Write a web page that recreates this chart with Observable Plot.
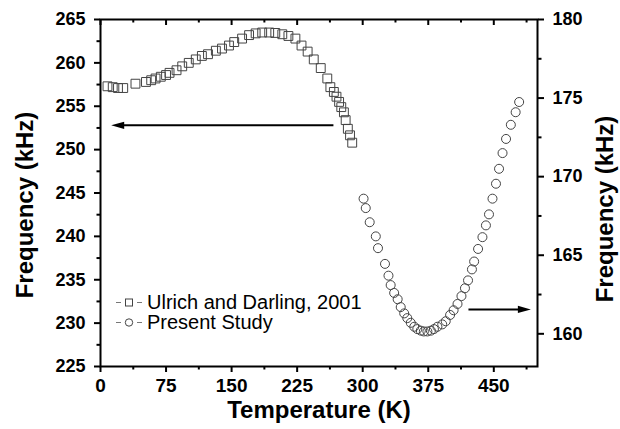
<!DOCTYPE html>
<html><head><meta charset="utf-8">
<script src="https://cdn.jsdelivr.net/npm/d3@7"></script>
<script src="https://cdn.jsdelivr.net/npm/@observablehq/plot@0.6"></script>
<style>body{margin:0;background:#fff} #c{width:620px;height:429px}</style>
</head><body><div id="c"></div>
<script>
// Ulrich and Darling, 2001 (left axis, kHz)
const sqT = [8, 14, 20, 26, 40, 52, 58, 63, 69, 75, 79, 87, 93.5, 101, 109, 116, 123, 132, 139, 147, 153, 162, 170, 177.5, 185, 193, 200, 208, 215, 223, 230, 237, 244, 252, 259.5, 263, 267, 270, 273, 275.5, 278.5, 280.5, 283, 285.5, 288];
const sqF = [257.3, 257.2, 257.1, 257.1, 257.6, 257.8, 258.0, 258.2, 258.4, 258.6, 258.85, 259.15, 259.6, 260.0, 260.4, 260.8, 261.0, 261.4, 261.65, 262.0, 262.4, 262.8, 263.2, 263.4, 263.5, 263.5, 263.45, 263.3, 263.1, 262.8, 262.0, 261.3, 260.4, 259.4, 258.2, 257.2, 256.65, 256.1, 255.5, 254.9, 254.3, 253.4, 252.4, 251.65, 250.8];
// Present Study (right axis, kHz)
const ciT = [301, 303.5, 308, 315, 317.5, 325.5, 329.5, 332, 336, 340, 343.5, 347.5, 351, 355, 359, 362.5, 366.5, 370, 374, 378, 381.5, 385.5, 391, 395, 400, 404, 408.5, 413, 417, 420.5, 425, 427.5, 432, 437, 441, 444.5, 448.5, 452.5, 456, 460, 464, 469.5, 475, 479];
const ciF = [168.6, 168.0, 167.1, 166.2, 165.45, 164.45, 163.7, 163.1, 162.6, 162.2, 161.7, 161.3, 161.0, 160.7, 160.45, 160.3, 160.2, 160.15, 160.15, 160.2, 160.3, 160.45, 160.6, 160.8, 161.2, 161.5, 161.9, 162.4, 162.9, 163.4, 164.1, 164.6, 165.4, 166.15, 166.9, 167.6, 168.6, 169.55, 170.5, 171.5, 172.4, 173.3, 174.1, 174.75];

const xMajor = [0, 75, 150, 225, 300, 375, 450];
const xMinor = [37.5, 112.5, 187.5, 262.5, 337.5, 412.5, 487.5];
const yLeftMajor = [225, 230, 235, 240, 245, 250, 255, 260, 265];
const yLeftMinor = [227.5, 232.5, 237.5, 242.5, 247.5, 252.5, 257.5, 262.5];
const yRightMajor = [160, 165, 170, 175, 180];
const yRightMinor = [162.5, 167.5, 172.5, 177.5];

// arrows: [tail T, tip T, value]
const arrowLeft = {t0: 266.5, t1: 12.2, f: 252.8};     // left-axis
const arrowRight = {t0: 421, t1: 492.4, f: 161.55};    // right-axis

const legendLabels = ["Ulrich and Darling, 2001", "Present Study"];

const L0 = 225, L1 = 265, R0 = 157.92, R1 = 180;
const toL = v => L0 + (v - R0) * (L1 - L0) / (R1 - R0);
const fromL = y => R0 + (y - L0) * (R1 - R0) / (L1 - L0);

const squares = sqT.map((t, i) => ({t, f: sqF[i]}));
const circles = ciT.map((t, i) => ({t, f: toL(ciF[i])}));

const font = "'Liberation Sans', Arial, sans-serif";
const head = {draw(ctx) { ctx.moveTo(0, 0); ctx.lineTo(-13, -3.6); ctx.lineTo(-13, 3.6); ctx.closePath(); }};
const markerStroke = "#444";

const chart = Plot.plot({
  width: 620, height: 429,
  marginLeft: 100, marginRight: 83, marginTop: 19, marginBottom: 63,
  style: {fontFamily: font, background: "white", overflow: "visible"},
  x: {domain: [0, 500]},
  y: {domain: [L0, L1]},
  marks: [
    Plot.axisX(xMajor, {anchor: "bottom", tickSize: 6, tickPadding: 6, fontSize: 19, fontWeight: "bold", strokeWidth: 2, label: null, tickFormat: d => d, fill: "black"}),
    Plot.axisX(xMinor, {anchor: "bottom", tickSize: 3.5, strokeWidth: 2, label: null, tickFormat: () => ""}),
    Plot.tickX(xMajor, {x: d => d, insetBottom: 341, strokeWidth: 2}),
    Plot.tickX(xMinor, {x: d => d, insetBottom: 343.5, strokeWidth: 2}),
    Plot.axisY(yLeftMajor, {anchor: "left", tickSize: 6, tickPadding: 9, fontSize: 18, fontWeight: "bold", strokeWidth: 2, label: null, tickFormat: d => d}),
    Plot.axisY(yLeftMinor, {anchor: "left", tickSize: 3.5, strokeWidth: 2, label: null, tickFormat: () => ""}),
    Plot.axisY(yRightMajor.map(toL), {anchor: "right", tickSize: 6, tickPadding: 9, fontSize: 18, fontWeight: "bold", strokeWidth: 2, label: null, tickFormat: d => Math.round(fromL(d))}),
    Plot.axisY(yRightMinor.map(toL), {anchor: "right", tickSize: 3.5, strokeWidth: 2, label: null, tickFormat: () => ""}),
    Plot.frame({strokeWidth: 2}),
    Plot.dot(squares, {x: "t", y: "f", symbol: "square", r: 5, stroke: markerStroke, strokeWidth: 1, fill: "none"}),
    Plot.dot(circles, {x: "t", y: "f", symbol: "circle", r: 4.5, stroke: markerStroke, strokeWidth: 1, fill: "none"}),
    Plot.link([arrowLeft], {x1: "t0", x2: d => d.t1 + 8, y1: "f", y2: "f", stroke: "black", strokeWidth: 2}),
    Plot.dot([arrowLeft], {x: "t1", y: "f", symbol: head, rotate: 180, fill: "black", stroke: "none"}),
    Plot.link([arrowRight], {x1: "t0", x2: d => d.t1 - 8, y1: d => toL(d.f), y2: d => toL(d.f), stroke: "black", strokeWidth: 2}),
    Plot.dot([arrowRight], {x: "t1", y: d => toL(d.f), symbol: head, fill: "black", stroke: "none"}),
    Plot.text(["Temperature (K)"], {frameAnchor: "bottom", dy: 51, fontSize: 24, fontWeight: "bold", fill: "black"}),
    Plot.text(["Frequency (kHz)"], {frameAnchor: "left", textAnchor: "middle", dx: -75, dy: 12, rotate: -90, fontSize: 24, fontWeight: "bold", fill: "black"}),
    Plot.text(["Frequency (kHz)"], {frameAnchor: "right", textAnchor: "middle", dx: 68, dy: 16, rotate: -90, fontSize: 24, fontWeight: "bold", fill: "black"})
  ]
});

// legend inside the plot area
const svg = d3.select(chart);
const lg = svg.append("g").attr("font-family", font).attr("text-anchor", "start");
const rows = [{y: 302.5, sym: "square"}, {y: 322.5, sym: "circle"}];
rows.forEach((r, i) => {
  lg.append("line").attr("x1", 116).attr("x2", 121).attr("y1", r.y).attr("y2", r.y).attr("stroke", "#777");
  lg.append("line").attr("x1", 137).attr("x2", 142).attr("y1", r.y).attr("y2", r.y).attr("stroke", "#777");
  if (r.sym === "square") lg.append("rect").attr("x", 125.5).attr("y", r.y - 3.5).attr("width", 7).attr("height", 7).attr("fill", "none").attr("stroke", markerStroke);
  else lg.append("circle").attr("cx", 129).attr("cy", r.y).attr("r", 3.7).attr("fill", "none").attr("stroke", markerStroke);
  lg.append("text").attr("x", 147).attr("y", r.y - 1).attr("dominant-baseline", "central").attr("text-anchor", "start").attr("font-size", 20).attr("fill", "black").text(legendLabels[i]);
});

document.getElementById("c").appendChild(chart);
</script>
</body></html>
